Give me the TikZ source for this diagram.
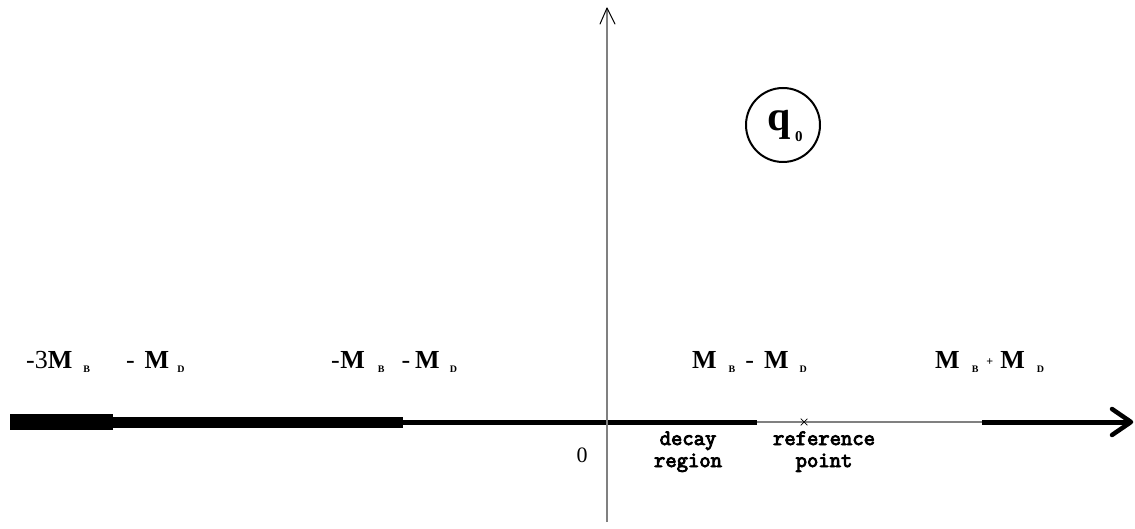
\documentclass[tikz,border=0pt]{standalone}
\usepackage{fontspec}
\setmainfont{Liberation Serif}
\newfontfamily\monof{Latin Modern Mono}[AutoFakeBold=4]
\usetikzlibrary{shapes.misc}
\newcommand{\sbx}[1]{\raisebox{-4pt}{\fontsize{10}{10}\selectfont\bfseries #1}}
\begin{document}
\begin{tikzpicture}[x=1pt,y=-1pt,
  lab/.style={inner sep=0pt,anchor=base west,font=\fontsize{26}{26}\selectfont},
  smalltxt/.style={inner sep=0pt,anchor=base,font=\monof\bfseries\fontsize{22}{22}\selectfont},
  axisgrey/.style={draw=black!50,line width=1.3pt},
  tipline/.style={line width=#1,line cap=round,line join=round}]
\useasboundingbox (0,0) rectangle (1135,529);

% horizontal axis
\coordinate (L0) at (10,422);
\coordinate (L1) at (113,422);
\coordinate (L2) at (403,422);
\coordinate (L3) at (757,422);
\coordinate (L4) at (982,422);
\coordinate (T) at (1131,422);
\coordinate (TW1) at (1112,409);
\coordinate (TW2) at (1112,435);
\draw[line width=16pt] (L0) -- (L1);
\draw[line width=11pt] (L1) -- (L2);
\draw[line width=5pt] (L2) -- (L3);
\draw[axisgrey] (L3) -- (L4);
\draw[line width=5pt] (L4) -- (T);
\draw[tipline=4.5pt] (TW1) -- (T) -- (TW2);

% vertical axis
\coordinate (VB) at (607,522);
\coordinate (VT) at (607,8);
\coordinate (VW1) at (600,24);
\coordinate (VW2) at (615,24);
\draw[axisgrey] (VB) -- (VT);
\draw[tipline=1pt] (VW1) -- (VT) -- (VW2);

% reference point
\node[cross out,draw,line width=0.7pt,minimum size=6pt,inner sep=0pt] (ref) at (804,422) {};

% circle q0
\node[circle,draw,line width=2pt,minimum size=74pt,inner sep=0pt] (qc) at (783,125) {};
\node[anchor=base west,inner sep=0pt,font=\bfseries\fontsize{42}{42}\selectfont] (q) at (767,131) {q};
\node[anchor=base west,inner sep=0pt,font=\bfseries\fontsize{15}{15}\selectfont] (q0) at (795,142) {0};

% labels
\node[lab] (l1) at (26,368) {-3\textbf{M}\kern11pt\sbx{B}\kern36pt-\kern10pt\textbf{M}\kern8pt\sbx{D}};
\node[lab] (l2) at (331,368) {-\kern0.5pt\textbf{M}\kern13pt\sbx{B}\kern17pt-\kern5pt\textbf{M}\kern10pt\sbx{D}};
\node[lab] (l3) at (692,368) {\textbf{M}\kern12pt\sbx{B}\kern10pt-\kern10pt\textbf{M}\kern11pt\sbx{D}};
\node[lab] (l4) at (935,368) {\textbf{M}\kern12pt\sbx{B}\kern8pt\raisebox{3pt}{\fontsize{12}{12}\selectfont\bfseries +}\kern7pt\textbf{M}\kern12pt\sbx{D}};

\node[inner sep=0pt,font=\fontsize{22}{22}\selectfont] (zero) at (582,455) {0};
\node[smalltxt] (dec1) at (688,445) {decay};
\node[smalltxt] (dec2) at (688,467) {region};
\node[smalltxt] (ref1) at (824,445) {reference};
\node[smalltxt] (ref2) at (824,467) {point};
\end{tikzpicture}
\end{document}
